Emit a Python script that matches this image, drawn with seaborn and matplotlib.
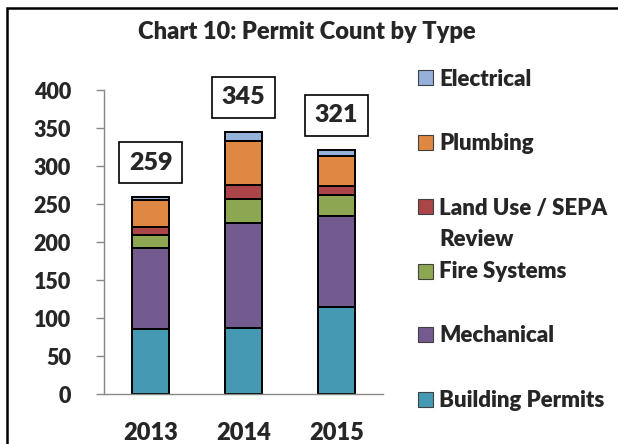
import numpy as np
import seaborn as sns
import matplotlib.pyplot as plt
from matplotlib.patches import Rectangle

# data (stack order: bottom -> top)
years = ['2013', '2014', '2015']
building = [85, 87, 114]
mechanical = [107, 138, 120]
fire = [17, 32, 28]
land_use = [11, 18, 12]
plumbing = [35, 58, 39]
electrical = [4, 12, 8]

names = ['Building Permits', 'Mechanical', 'Fire Systems',
         'Land Use / SEPA\nReview', 'Plumbing', 'Electrical']
colors = ['#4699B2', '#735A8F', '#8CA652', '#AB4547', '#DF8843', '#95B0D9']
series = [building, mechanical, fire, land_use, plumbing, electrical]

sns.set_style('white')
plt.rcParams['font.family'] = ['Lato', 'DejaVu Sans']
plt.rcParams['font.weight'] = 'heavy'

fig = plt.figure(figsize=(6.18, 4.44), dpi=100)
ax = fig.add_axes([104 / 618, 50 / 444, 279 / 618, 304 / 444])

# stacked bars
bottom = np.zeros(len(years))
for name, vals, col in zip(names, series, colors):
    sns.barplot(x=years, y=vals, bottom=bottom.copy(), color=col, saturation=1,
                edgecolor='black', linewidth=1.4, width=0.4, errorbar=None, ax=ax)
    bottom += np.array(vals)

ax.set_xlim(-0.5, 2.5)
ax.set_ylim(0, 400)
ax.set_yticks(range(0, 401, 50))
ax.set_xlabel('')
ax.set_ylabel('')
for s in ['top', 'right']:
    ax.spines[s].set_visible(False)
for s in ['left', 'bottom']:
    ax.spines[s].set_color('#888888')
    ax.spines[s].set_linewidth(1)
ax.tick_params(axis='y', direction='out', length=5.8, width=1, color='#888888',
               pad=18, labelsize=15.5, left=True)
ax.tick_params(axis='x', length=0, pad=20, labelsize=17)

# total labels in boxes
for i, t in enumerate(bottom.astype(int)):
    ax.annotate(str(t), xy=(i, t), xytext=(0, 17), textcoords='offset points',
                ha='center', va='bottom', fontsize=18, fontweight='heavy',
                bbox=dict(boxstyle='square,pad=0.38', fc='white', ec='black', lw=1.2),
                annotation_clip=False)

fig.text(307 / 618, 1 - 32 / 444, 'Chart 10: Permit Count by Type',
         ha='center', va='center', fontsize=17, fontweight='heavy')

# legend (top to bottom, reversed stack order)
leg_y = [78, 142, 207, 271, 335, 399]
for yc, name, col in zip(leg_y, names[::-1], colors[::-1]):
    fig.add_artist(Rectangle((418 / 618, 1 - (yc + 7.5) / 444), 15 / 618, 15 / 444,
                             transform=fig.transFigure, fc=col, ec='#404040', lw=0.8))
    for j, line in enumerate(name.split('\n')):
        fig.text(439 / 618, 1 - (yc + 7.5 + 31 * j) / 444, line, ha='left',
                 va='baseline', fontsize=16, fontweight='heavy')

# chart border (cut off on the right and bottom)
fig.add_artist(Rectangle((7 / 618, -0.1), 1.1, (444 - 8) / 444 + 0.1,
                         transform=fig.transFigure, fill=False, ec='black',
                         lw=1.8, clip_on=False))

fig.savefig('out.png', dpi=100)
